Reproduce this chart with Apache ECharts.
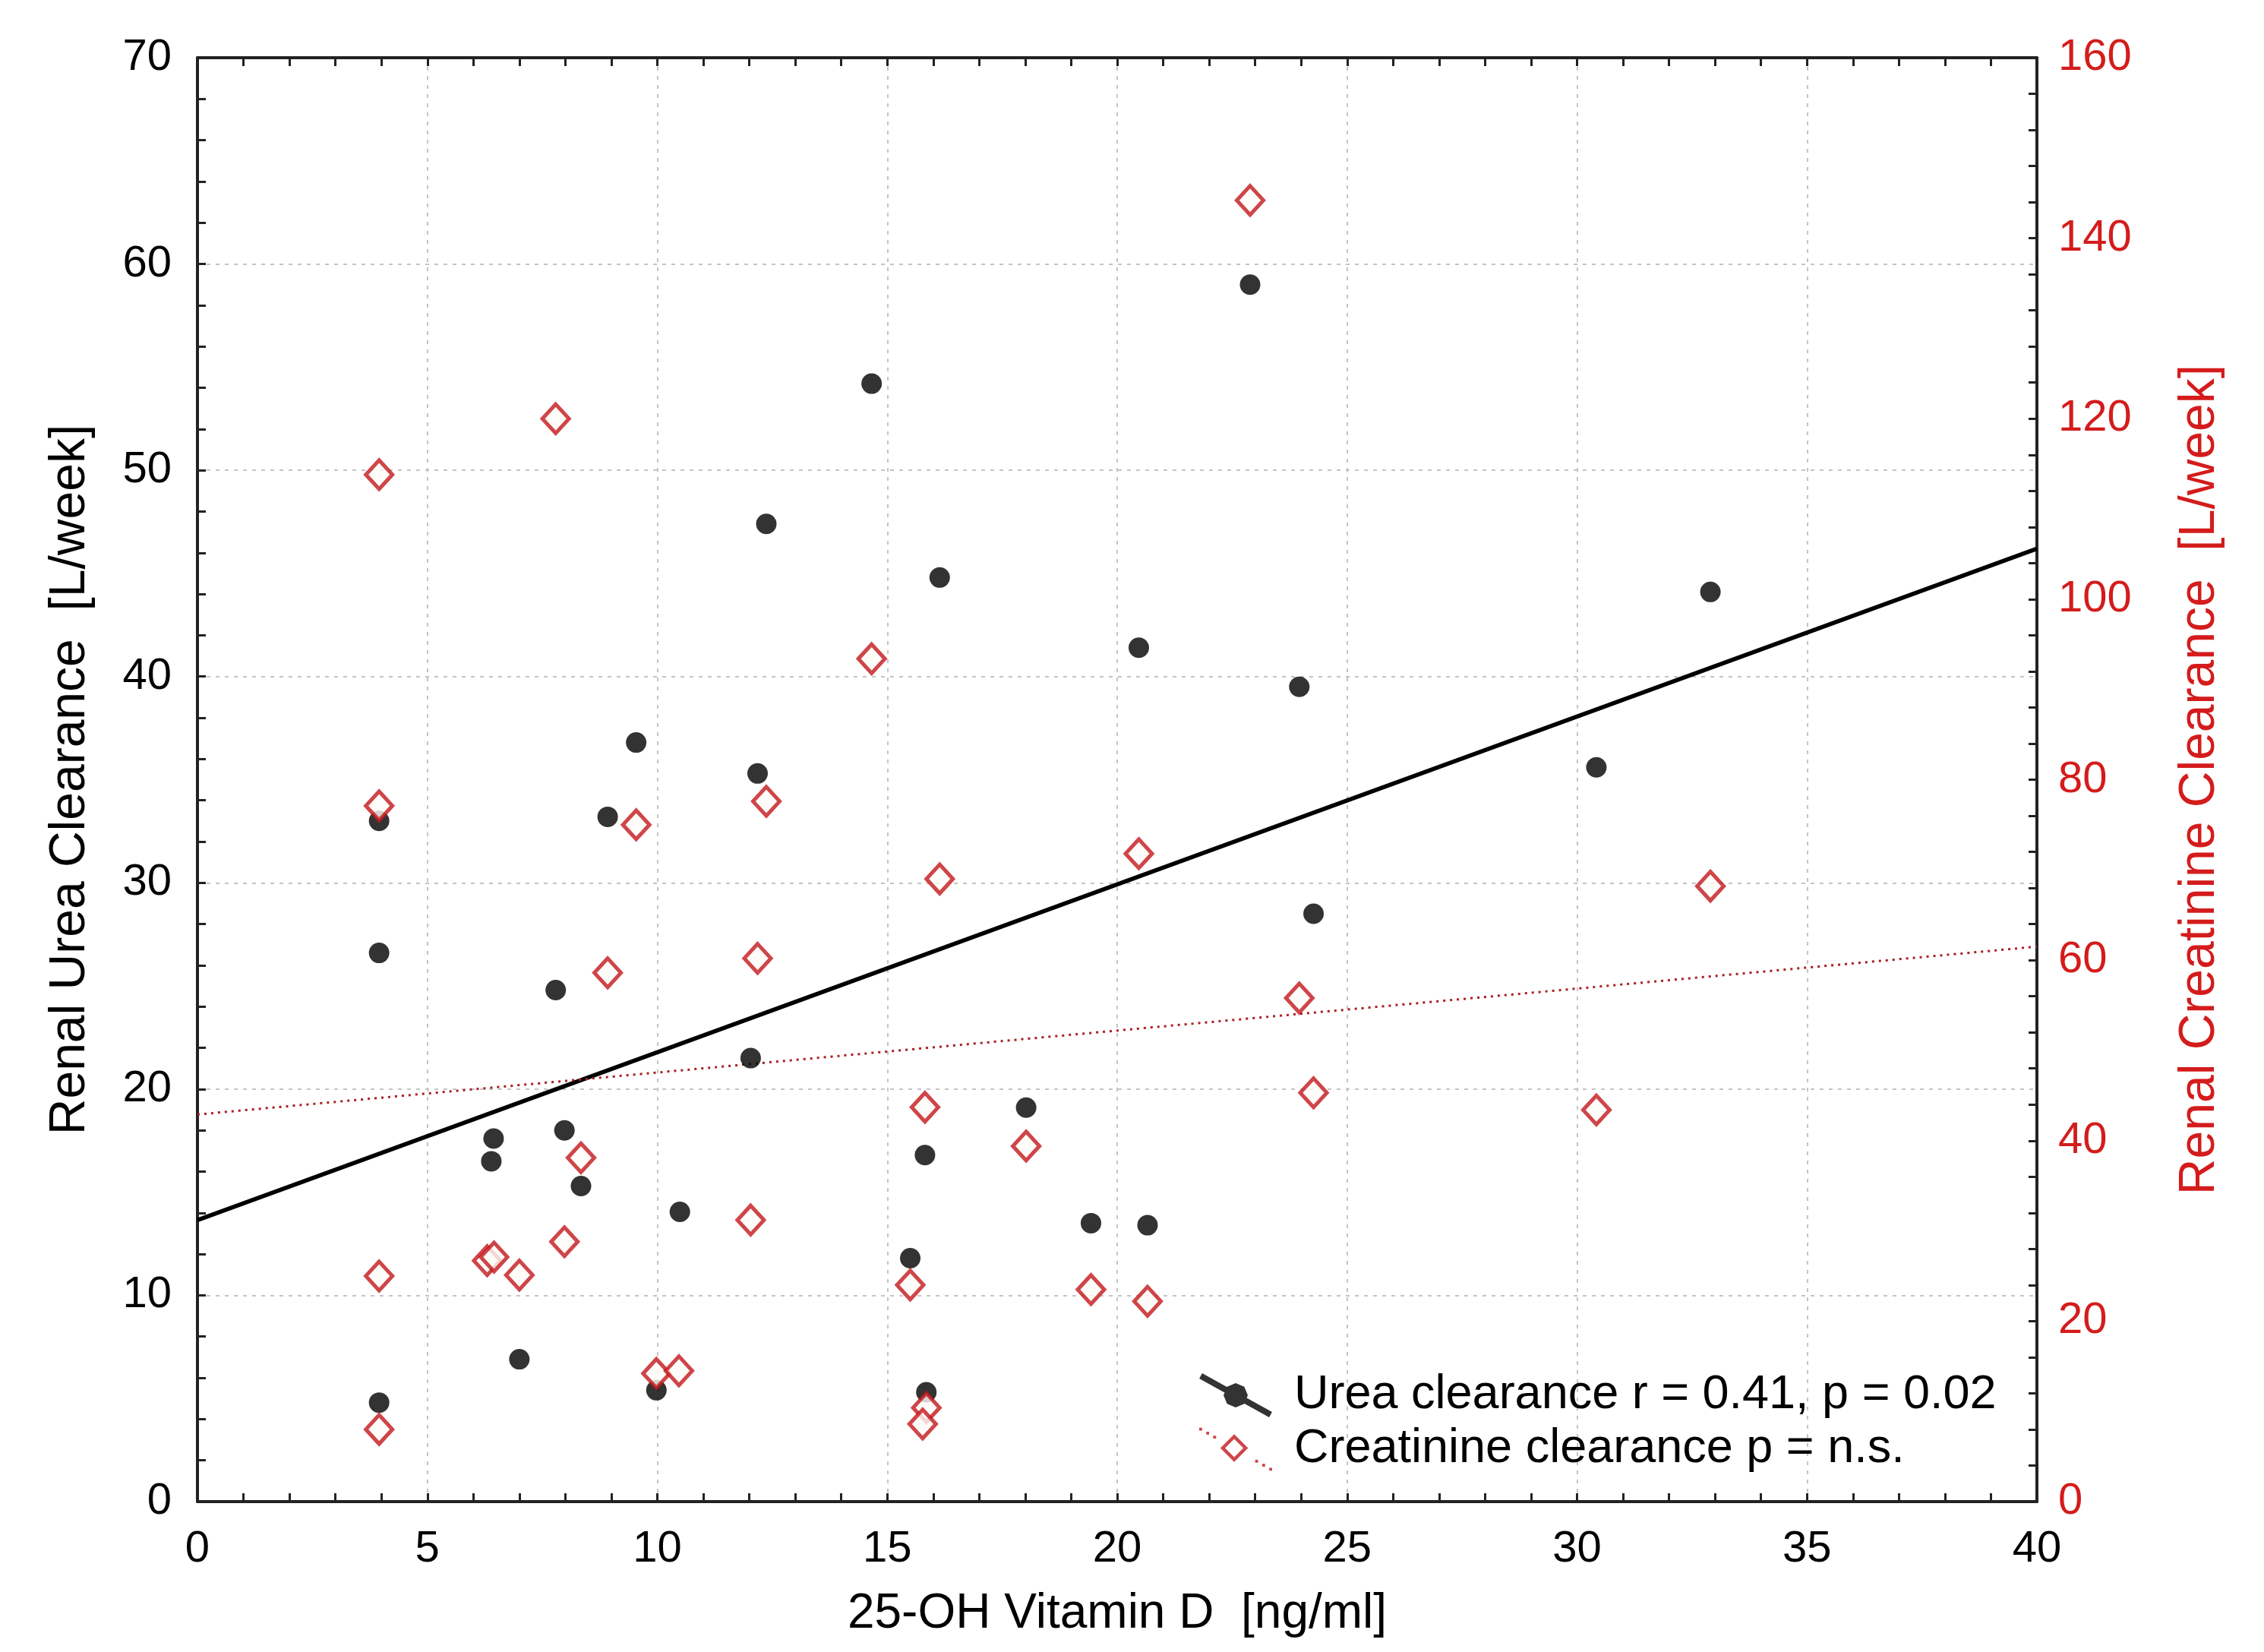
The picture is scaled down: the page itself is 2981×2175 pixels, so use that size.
<!DOCTYPE html>
<html>
<head>
<meta charset="utf-8">
<script src="https://cdn.jsdelivr.net/npm/echarts@6/dist/echarts.min.js"></script>
<style>
  html, body { margin: 0; padding: 0; background: #fff; }
  #chart { width: 2981px; height: 2175px; }
</style>
</head>
<body>
<div id="chart"></div>
<script>
// 25-OH vitamin D [ng/ml] vs. renal urea clearance [L/week] (left axis)
const ureaVitD = [3.95, 3.95, 3.95, 6.39, 6.44, 7.0, 7.79, 7.98, 8.34, 8.92, 9.54, 9.98, 10.49, 12.03, 12.18, 12.37, 14.66, 15.5, 15.85, 15.82, 16.14, 18.02, 19.43, 20.66, 20.47, 22.89, 23.96, 24.27, 30.42, 32.9]
const ureaClearance = [4.8, 26.6, 33.0, 16.5, 17.6, 6.9, 24.8, 18.0, 15.3, 33.2, 36.8, 5.4, 14.05, 21.5, 35.3, 47.4, 54.2, 11.8, 5.3, 16.8, 44.8, 19.1, 13.5, 13.4, 41.4, 59.0, 39.5, 28.5, 35.6, 44.1]

// 25-OH vitamin D [ng/ml] vs. renal creatinine clearance [L/week] (right axis)
const creatVitD = [3.95, 3.95, 3.95, 3.95, 6.3, 6.45, 7.0, 7.79, 7.98, 8.34, 8.92, 9.54, 9.98, 10.47, 12.03, 12.18, 12.37, 14.66, 15.5, 15.85, 15.77, 15.82, 16.14, 18.02, 19.43, 20.66, 20.47, 22.89, 23.96, 24.27, 30.42, 32.9]
const creatClearance = [8.0, 25.0, 77.1, 113.8, 26.7, 27.1, 25.1, 120.0, 28.8, 38.1, 58.6, 75.0, 14.2, 14.5, 31.2, 60.2, 77.6, 93.4, 24.0, 10.4, 8.6, 43.7, 69.0, 39.4, 23.5, 22.2, 71.8, 144.2, 55.8, 45.3, 43.4, 68.2]

// regression lines, end points
const ureaFitX = [0, 40]
const ureaFitY = [13.65, 46.2]
const creatFitX = [0, 40]
const creatFitY = [42.9, 61.5]

const ureaLabel = 'Urea clearance r = 0.41, p = 0.02'
const creatLabel = 'Creatinine clearance p = n.s.'

const font = '"Liberation Sans", Arial, Helvetica, sans-serif'
const axisColor = '#222'
const red = '#c3161c'
const labelRed = '#d41c1c'

const zip = (xs, ys) => xs.map((x, i) => [x, ys[i]])

// legend icons: slanted line through a dot / dotted slant with a hollow diamond
const ureaIcon = 'path://M3.94,-1.5L95.94,49.5L92.06,56.5L0.06,5.5Z' +
	'M64,27.5L59.3,38.8L48,43.5L36.7,38.8L32,27.5L36.7,16.2L48,11.5L59.3,16.2Z'
const creatIcon = 'path://M48,9L67,28L48,47L29,28Z' +
	'M48,15.5L35.5,28L48,40.5L60.5,28Z' +
	'M0,0h4v4h-4Z M9.6,5.5h4v4h-4Z M19.2,11h4v4h-4Z' +
	'M76.8,44h4v4h-4Z M86.4,49.5h4v4h-4Z M96,55h4v4h-4Z'

const tickStyle = { color: axisColor, width: 3 }

const option = {
	backgroundColor: '#fff',
	textStyle: { fontFamily: font },
	animation: false,
	grid: {
		left: 260,
		right: 299,
		top: 76,
		bottom: 198,
		outerBoundsMode: 'none'
	},
	legend: {
		orient: 'vertical',
		left: 1574,
		top: 1799,
		itemWidth: 96,
		itemHeight: 58,
		itemGap: 5,
		selectedMode: false,
		textStyle: {
			fontSize: 63,
			lineHeight: 66,
			color: '#000',
			fontFamily: font,
			padding: [0, 0, 0, 24]
		},
		data: [
			{ name: ureaLabel, icon: ureaIcon, itemStyle: { color: '#000', borderWidth: 0 } },
			{ name: creatLabel, icon: creatIcon, itemStyle: { color: red, borderWidth: 0 } }
		]
	},
	xAxis: [
		{
			type: 'value',
			min: 0,
			max: 40,
			interval: 5,
			position: 'bottom',
			name: '25-OH Vitamin D  [ng/ml]',
			nameLocation: 'middle',
			nameGap: 116,
			nameTextStyle: { fontSize: 64, color: '#000', fontFamily: font },
			axisLine: { show: true, onZero: false, lineStyle: { color: axisColor, width: 4 } },
			axisTick: { show: true, inside: true, length: 11, lineStyle: tickStyle },
			minorTick: { show: true, splitNumber: 5, length: 11, lineStyle: tickStyle },
			axisLabel: { margin: 34, fontSize: 58, color: '#000', fontFamily: font },
			splitLine: { show: true, lineStyle: { color: '#c4c4c4', width: 2, type: [5, 7] } }
		},
		{
			type: 'value',
			min: 0,
			max: 40,
			interval: 5,
			position: 'top',
			axisLine: { show: true, onZero: false, lineStyle: { color: axisColor, width: 4 } },
			axisTick: { show: true, inside: true, length: 11, lineStyle: tickStyle },
			minorTick: { show: true, splitNumber: 5, length: 11, lineStyle: tickStyle },
			axisLabel: { show: false },
			splitLine: { show: false }
		}
	],
	yAxis: [
		{
			type: 'value',
			min: 0,
			max: 70,
			interval: 10,
			position: 'left',
			name: 'Renal Urea Clearance  [L/week]',
			nameLocation: 'middle',
			nameRotate: 90,
			nameGap: 134,
			nameTextStyle: { fontSize: 66, color: '#000', fontFamily: font },
			axisLine: { show: true, onZero: false, lineStyle: { color: axisColor, width: 4 } },
			axisTick: { show: true, inside: true, length: 11, lineStyle: tickStyle },
			minorTick: { show: true, splitNumber: 5, length: 11, lineStyle: tickStyle },
			axisLabel: { margin: 34, fontSize: 58, color: '#000', fontFamily: font },
			splitLine: { show: true, lineStyle: { color: '#c4c4c4', width: 2, type: [5, 7] } }
		},
		{
			type: 'value',
			min: 0,
			max: 160,
			interval: 20,
			position: 'right',
			name: 'Renal Creatinine Clearance  [L/week]',
			nameLocation: 'middle',
			nameRotate: 90,
			nameGap: 182,
			nameTextStyle: { fontSize: 66, color: labelRed, fontFamily: font },
			axisLine: { show: true, onZero: false, lineStyle: { color: axisColor, width: 4 } },
			axisTick: { show: true, inside: true, length: 11, lineStyle: tickStyle },
			minorTick: { show: true, splitNumber: 5, length: 11, lineStyle: tickStyle },
			axisLabel: { margin: 28, fontSize: 58, color: labelRed, fontFamily: font },
			splitLine: { show: false }
		}
	],
	series: [
		{
			name: 'urea fit',
			type: 'line',
			xAxisIndex: 0,
			yAxisIndex: 0,
			data: zip(ureaFitX, ureaFitY),
			showSymbol: false,
			silent: true,
			lineStyle: { color: '#000', width: 5.5 },
			z: 2
		},
		{
			name: 'creatinine fit',
			type: 'line',
			xAxisIndex: 0,
			yAxisIndex: 1,
			data: zip(creatFitX, creatFitY),
			showSymbol: false,
			silent: true,
			lineStyle: { color: '#a82024', width: 3, type: [3, 6] },
			z: 2
		},
		{
			name: ureaLabel,
			type: 'scatter',
			xAxisIndex: 0,
			yAxisIndex: 0,
			data: zip(ureaVitD, ureaClearance),
			symbol: 'circle',
			symbolSize: 27,
			itemStyle: { color: '#000' },
			z: 3
		},
		{
			name: creatLabel,
			type: 'scatter',
			xAxisIndex: 0,
			yAxisIndex: 1,
			data: zip(creatVitD, creatClearance),
			symbol: 'diamond',
			symbolSize: [35, 38],
			itemStyle: { color: '#fdfbf6', borderColor: red, borderWidth: 5 },
			z: 4
		}
	]
}

const chart = echarts.init(document.getElementById('chart'), null, { renderer: 'canvas' })
chart.setOption(option)
</script>
</body>
</html>
